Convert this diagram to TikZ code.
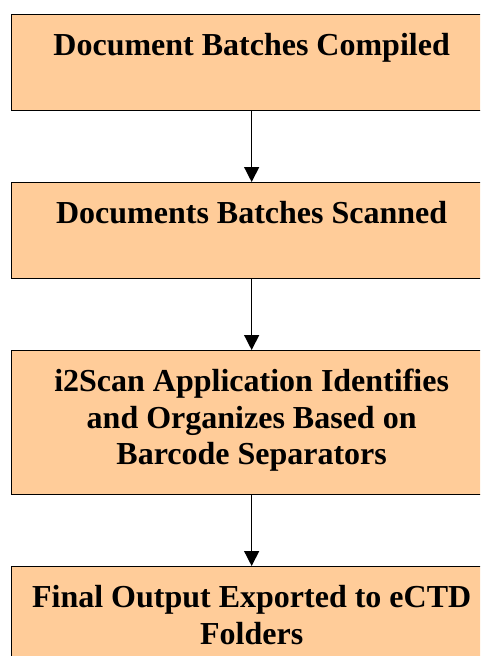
\documentclass[tikz,border=0pt]{standalone}
\usepackage{fontspec}
\setmainfont{Liberation Serif}
\usetikzlibrary{arrows.meta}
\definecolor{peach}{HTML}{FFCC99}
\tikzset{
  stepbox/.style={draw=black, fill=peach, line width=1.3pt, inner sep=0pt, anchor=north west,
    font=\fontsize{32}{36.5}\selectfont\bfseries},
  flow/.style={line width=1.4pt, -{Triangle[width=15pt,length=15pt]}}
}
\newcommand{\boxtext}[2]{\parbox[c][#1][t]{480pt}{\centering\rule{0pt}{41pt}#2}}
\begin{document}
\begin{tikzpicture}[x=1pt,y=1pt]
\useasboundingbox (0,0) rectangle (480,-656);
\clip (0,0) rectangle (480,-656);
\node[stepbox] (b1) at (11,-14) {\boxtext{96pt}{Document Batches Compiled}};
\node[stepbox] (b2) at (11,-182) {\boxtext{96pt}{Documents Batches Scanned}};
\node[stepbox] (b3) at (11,-350) {\boxtext{144pt}{i2Scan Application Identifies\\and Organizes Based on\\Barcode Separators}};
\node[stepbox] (b4) at (11,-566) {\boxtext{130pt}{Final Output Exported to eCTD\\Folders}};
\draw[flow] (b1.south) -- (b2.north);
\draw[flow] (b2.south) -- (b3.north);
\draw[flow] (b3.south) -- (b4.north);
\end{tikzpicture}
\end{document}
